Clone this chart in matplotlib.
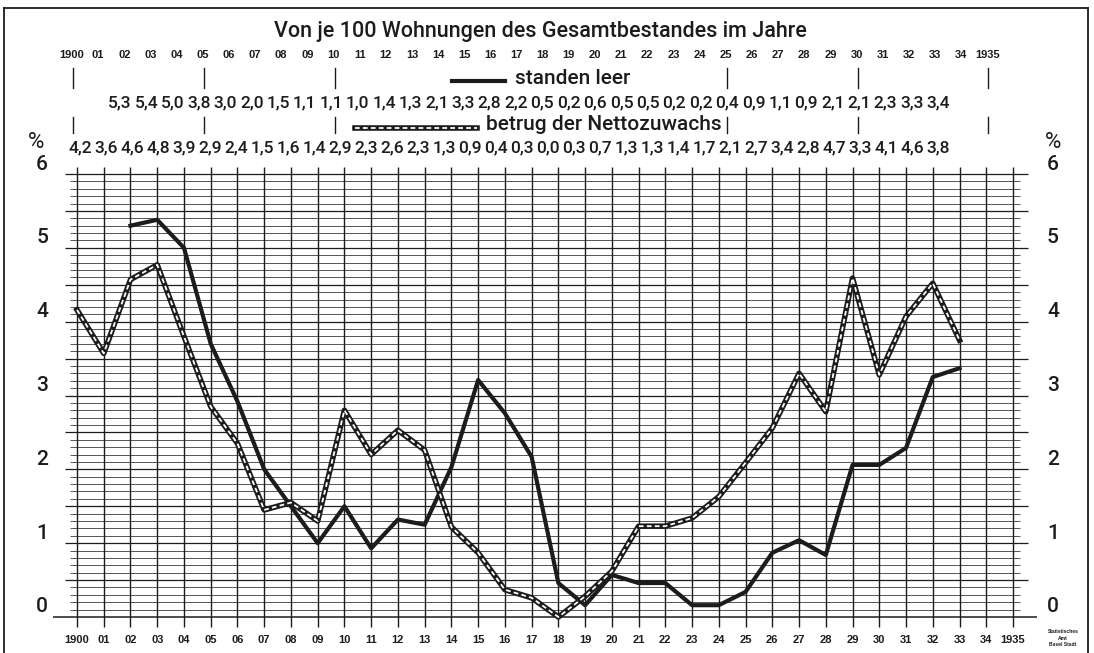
import matplotlib
matplotlib.use("Agg")
import matplotlib.pyplot as plt

# Jahre
years_leer = list(range(1902, 1934))
years_netto = list(range(1900, 1934))

# "standen leer" (Linie, wie gezeichnet)
leer = [5.3, 5.38, 5.0, 3.7, 2.92, 2.0, 1.5, 1.0, 1.5, 0.93,
        1.32, 1.25, 2.03, 3.21, 2.76, 2.17, 0.46, 0.16, 0.57, 0.46,
        0.46, 0.16, 0.16, 0.34, 0.87, 1.04, 0.84, 2.06, 2.06, 2.29,
        3.25, 3.37]

# "betrug der Nettozuwachs" (Linie, wie gezeichnet)
netto = [4.16, 3.57, 4.57, 4.77, 3.8, 2.85, 2.35, 1.45, 1.55, 1.3,
         2.8, 2.2, 2.53, 2.26, 1.22, 0.87, 0.37, 0.26, 0.0, 0.28,
         0.62, 1.23, 1.23, 1.34, 1.63, 2.09, 2.56, 3.3, 2.78, 4.59,
         3.28, 4.07, 4.52, 3.75]

# Zahlen in den Kopfzeilen
leer_txt = ["5,3", "5,4", "5,0", "3,8", "3,0", "2,0", "1,5", "1,1", "1,1", "1,0",
            "1,4", "1,3", "2,1", "3,3", "2,8", "2,2", "0,5", "0,2", "0,6", "0,5",
            "0,5", "0,2", "0,2", "0,4", "0,9", "1,1", "0,9", "2,1", "2,1", "2,3",
            "3,3", "3,4"]
netto_txt = ["4,2", "3,6", "4,6", "4,8", "3,9", "2,9", "2,4", "1,5", "1,6", "1,4",
             "2,9", "2,3", "2,6", "2,3", "1,3", "0,9", "0,4", "0,3", "0,0", "0,3",
             "0,7", "1,3", "1,3", "1,4", "1,7", "2,1", "2,7", "3,4", "2,8", "4,7",
             "3,3", "4,1", "4,6", "3,8"]

year_labels = ["1900"] + ["%02d" % i for i in range(1, 35)] + ["1935"]
y_labels = ["0", "1", "2", "3", "4", "5", "6"]

W, H = 1094, 653
INK = "#1c1c1c"
FONT = ["Roboto", "DejaVu Sans"]
SMALL = ["Liberation Sans", "DejaVu Sans"]


def fx(px):
    return px / W


def fy(py):
    return 1 - py / H


fig = plt.figure(figsize=(W / 100, H / 100), dpi=100)
fig.patch.set_facecolor("white")

# Diagrammfläche: 1900 bei x=77, 1935 bei x=1013, 0 bei y=617, 6 bei y=174
ax = fig.add_axes([fx(77), fy(617), (1013 - 77) / W, (617 - 174) / H])
ax.set_xlim(1900, 1935)
ax.set_ylim(0, 6)
ax.axis("off")

# Rahmen
frame = dict(color=INK, lw=1.3, transform=fig.transFigure)
fig.add_artist(plt.Line2D([fx(4), fx(1088)], [fy(8), fy(8)], **frame))
fig.add_artist(plt.Line2D([fx(4), fx(4)], [fy(8), fy(653)], **frame))
fig.add_artist(plt.Line2D([fx(1088), fx(1088)], [fy(8), fy(653)], **frame))

# Netz: waagrecht alle 0,1 - ganze und halbe Werte etwas länger
for k in range(61):
    v = k / 10
    if k == 0:
        ax.hlines(v, 1899.1, 1935.9, color=INK, lw=1.1, clip_on=False)
    elif k % 5 == 0:
        ax.hlines(v, 1899.55, 1935.55, color=INK, lw=0.9, clip_on=False)
    else:
        ax.hlines(v, 1899.75, 1935.25, color="#3a3a3a", lw=0.6, clip_on=False)

# senkrecht jedes Jahr
for yr in range(1900, 1936):
    ax.vlines(yr, -0.13, 6.09, color=INK, lw=1.0, clip_on=False)

# Kurven
ax.plot(years_leer, leer, color=INK, lw=3.0, clip_on=False, zorder=5)
ax.plot(years_netto, netto, color=INK, lw=4.0, clip_on=False, zorder=6)
ax.plot(years_netto, netto, color="white", lw=1.3, dashes=(2.6, 1.8),
        clip_on=False, zorder=7)

# y-Beschriftung beidseitig
for i, lab in enumerate(y_labels):
    py = 617 - i * 73.83 - 10
    fig.text(fx(42), fy(py), lab, ha="center", va="center", fontsize=15,
             fontweight="medium", family=FONT, color=INK)
    fig.text(fx(1053), fy(py), lab, ha="center", va="center", fontsize=15,
             fontweight="medium", family=FONT, color=INK)
fig.text(fx(36), fy(143), "%", ha="center", va="center", fontsize=16,
         family=FONT, color=INK)
fig.text(fx(1053), fy(143), "%", ha="center", va="center", fontsize=16,
         family=FONT, color=INK)

# Titel
fig.text(fx(540), fy(31), "Von je 100 Wohnungen des Gesamtbestandes im Jahre",
         ha="center", va="center", fontsize=15.5, fontweight="medium",
         family=FONT, color=INK)

# Jahreszahlen oben und unten
for i, lab in enumerate(year_labels):
    fig.text(fx(72 + i * 26.15), fy(55), lab, ha="center", va="center",
             fontsize=8, fontweight="bold", family=SMALL, color=INK)
    fig.text(fx(77 + i * 26.74), fy(640), lab, ha="center", va="center",
             fontsize=8, fontweight="bold", family=SMALL, color=INK)

# Markierungsstriche oben
for yr_i in [0, 5, 10, 25, 30, 35]:
    px = 73 + yr_i * 26.15
    for y0, y1 in [(68, 88), (117, 133)]:
        fig.add_artist(plt.Line2D([fx(px), fx(px)], [fy(y0), fy(y1)],
                                  color=INK, lw=1.0, transform=fig.transFigure))

# Legende
fig.add_artist(plt.Line2D([fx(452), fx(505)], [fy(81), fy(81)], color=INK,
                          lw=3.0, transform=fig.transFigure))
fig.text(fx(515), fy(78), "standen leer", ha="left", va="center",
         fontsize=15, fontweight="medium", family=FONT, color=INK)
fig.add_artist(plt.Line2D([fx(355), fx(477)], [fy(128), fy(128)], color=INK,
                          lw=4.0, transform=fig.transFigure))
fig.add_artist(plt.Line2D([fx(355), fx(477)], [fy(128), fy(128)], color="white",
                          lw=1.3, dashes=(2.6, 1.8), transform=fig.transFigure))
fig.text(fx(486), fy(125), "betrug der Nettozuwachs", ha="left", va="center",
         fontsize=15, fontweight="medium", family=FONT, color=INK)

# Zahlenreihen
for i, t in enumerate(leer_txt):
    fig.text(fx(120 + i * 26.4), fy(103), t, ha="center", va="center",
             fontsize=12.5, fontweight="medium", family=FONT, color=INK)
for i, t in enumerate(netto_txt):
    fig.text(fx(80 + i * 26.0), fy(148), t, ha="center", va="center",
             fontsize=12.5, fontweight="medium", family=FONT, color=INK)

# Stempel
fig.text(fx(1063), fy(638), "Statistisches\nAmt\nBasel Stadt", ha="center",
         va="center", fontsize=3.6, fontweight="bold", linespacing=1.3,
         family=SMALL, color=INK)

fig.savefig("out.png", dpi=100, facecolor="white")
